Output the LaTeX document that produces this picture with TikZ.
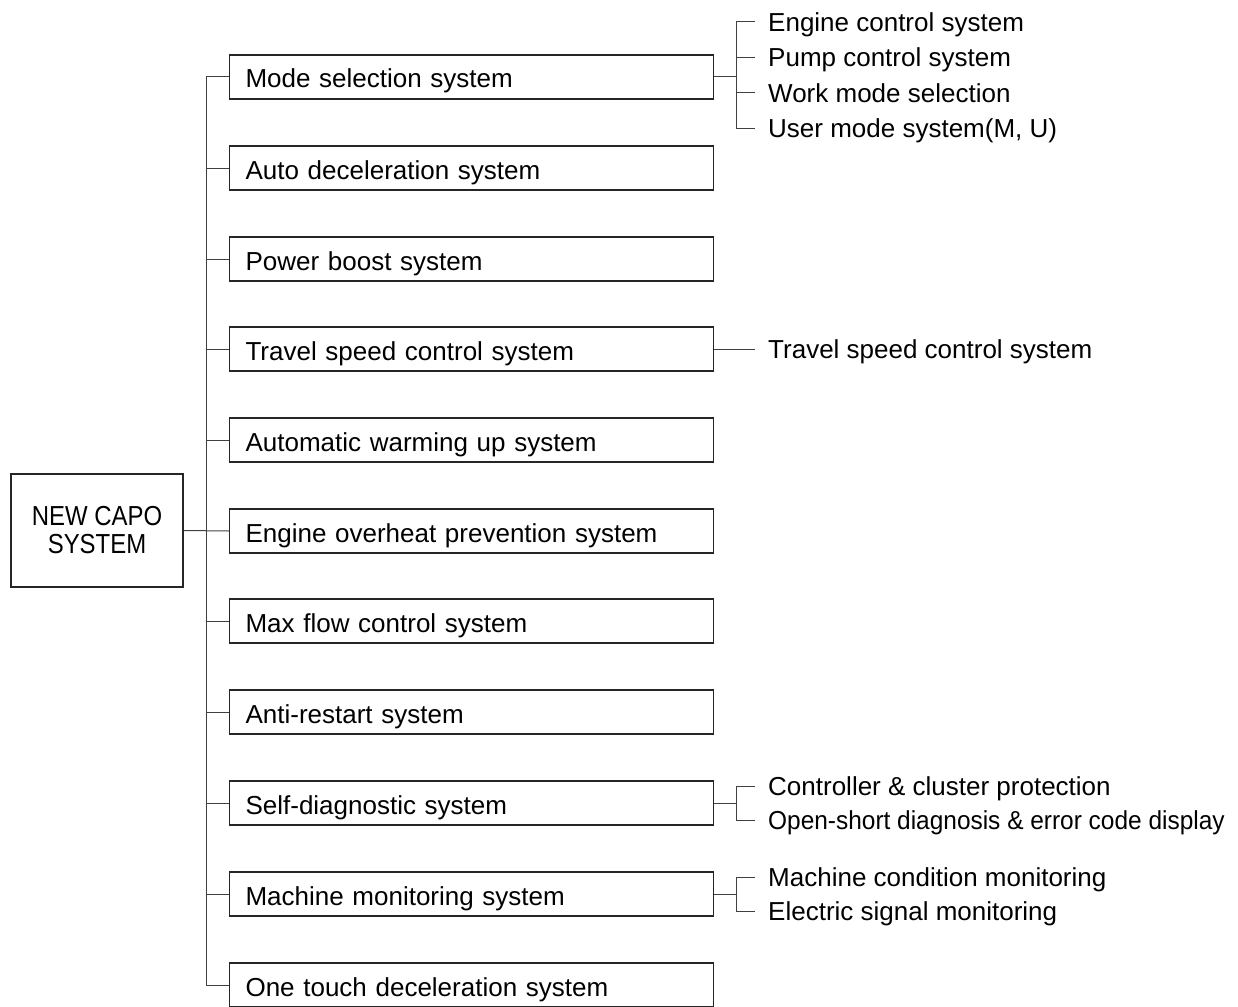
\documentclass[tikz,border=0pt]{standalone}
\usepackage{fontspec}
\setmainfont{Liberation Sans}
\usepackage{graphicx}
\begin{document}
\begin{tikzpicture}[x=1pt,y=-1pt,
  box/.style={draw=black!85, line width=1.1pt, minimum width=484pt, minimum height=44pt,
    text width=452pt, inner xsep=16pt, inner ysep=0pt, align=left,
    text height=24pt, text depth=2pt, font=\fontsize{26}{30}\selectfont, anchor=west},
  rootbox/.style={draw=black!85, line width=1.1pt, minimum width=172pt, minimum height=113pt,
    align=center, inner sep=0pt, font=\fontsize{27.5}{28}\selectfont},
  sub/.style={anchor=west, inner xsep=13pt, inner ysep=0pt, text height=18.6pt, text depth=0pt,
    font=\fontsize{26}{30}\selectfont},
  link/.style={draw=black!75, line width=1pt}]
\useasboundingbox (0,0) rectangle (1238,1006);

\node[rootbox] (root) at (97,530.5) {\scalebox{0.87}[1]{NEW CAPO}\\\scalebox{0.87}[1]{SYSTEM}};

\node[box] (b1) at (229,77) {Mode selection system};
\node[box] (b2) at (229,168) {Auto deceleration system};
\node[box] (b3) at (229,259) {Power boost system};
\node[box] (b4) at (229,349) {Travel speed control system};
\node[box] (b5) at (229,440) {Automatic warming up system};
\node[box] (b6) at (229,531) {Engine overheat prevention system};
\node[box] (b7) at (229,621) {Max flow control system};
\node[box] (b8) at (229,712) {Anti-restart system};
\node[box] (b9) at (229,803) {Self-diagnostic system};
\node[box] (b10) at (229,894) {Machine monitoring system};
\node[box] (b11) at (229,985) {One touch deceleration system};

% trunk
\draw[link] (root.east) -- (b6.west);
\draw[link] (b1.west) -- ++(-23,0) coordinate (ttop);
\draw[link] (b11.west) -- ++(-23,0) coordinate (tbot);
\draw[link] (ttop) -- (tbot);
\foreach \i in {2,3,4,5,7,8,9,10} {
  \draw[link] (b\i.west) -- (b\i.west -| ttop);
}

% sub items
\node[sub] (s11) at (755,22) {Engine control system};
\node[sub] (s12) at (755,57.5) {Pump control system};
\node[sub] (s13) at (755,93) {Work mode selection};
\node[sub] (s14) at (755,128) {User mode system(M, U)};

\node[sub] (s41) at (755,349) {Travel speed control system};

\node[sub] (s91) at (755,786) {Controller \& cluster protection};
\node[sub] (s92) at (755,820) {\scalebox{0.94}[1]{Open-short diagnosis \& error code display}};

\node[sub] (s101) at (755,877) {Machine condition monitoring};
\node[sub] (s102) at (755,911) {Electric signal monitoring};

% brackets
\draw[link] (b1.east) -- ++(22,0) coordinate (m1);
\draw[link] (s11.west) -- (s11.west -| m1) -- (s14.west -| m1) -- (s14.west);
\draw[link] (s12.west) -- (s12.west -| m1);
\draw[link] (s13.west) -- (s13.west -| m1);

\draw[link] (b4.east) -- (s41.west);

\draw[link] (b9.east) -- ++(22,0) coordinate (m9);
\draw[link] (s91.west) -- (s91.west -| m9) -- (s92.west -| m9) -- (s92.west);

\draw[link] (b10.east) -- ++(22,0) coordinate (m10);
\draw[link] (s101.west) -- (s101.west -| m10) -- (s102.west -| m10) -- (s102.west);
\end{tikzpicture}
\end{document}
